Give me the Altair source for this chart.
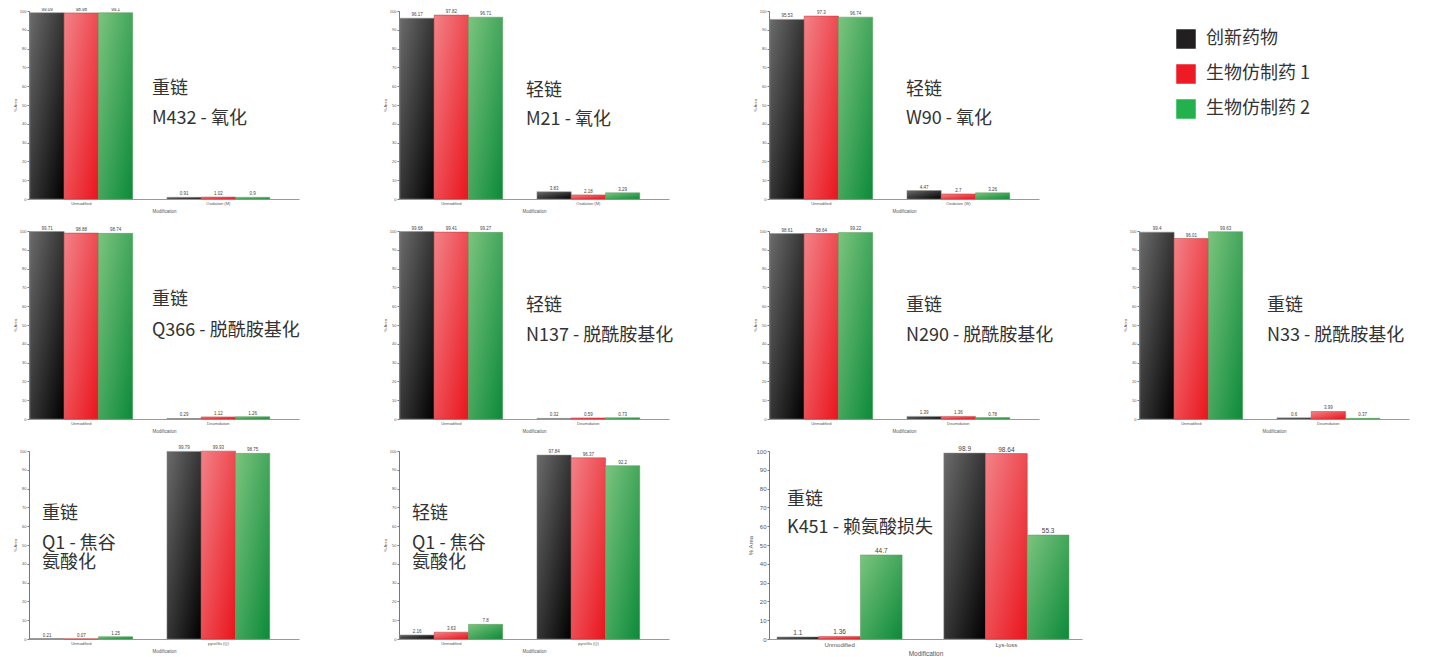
import altair as alt
import pandas as pd

# ---------------- data ----------------
series_names = ["创新药物", "生物仿制药 1", "生物仿制药 2"]
series_colors = ["#231f20", "#ed1c24", "#22b14c"]

chains = ["重链", "轻链", "轻链", "重链", "轻链", "重链", "重链", "重链", "轻链", "重链"]
sites = ["M432 - 氧化", "M21 - 氧化", "W90 - 氧化", "Q366 - 脱酰胺基化", "N137 - 脱酰胺基化",
         "N290 - 脱酰胺基化", "N33 - 脱酰胺基化", "Q1 - 焦谷", "Q1 - 焦谷", "K451 - 赖氨酸损失"]
sites_extra = ["", "", "", "", "", "", "", "氨酸化", "氨酸化", ""]

unmod_label = "Unmodified"
mod_labels = ["Oxidation (M)", "Oxidation (M)", "Oxidation (W)", "Deamidation", "Deamidation",
              "Deamidation", "Deamidation", "pyroGlu (Q)", "pyroGlu (Q)", "Lys-loss"]

innovator_unmod = [99.09, 96.17, 95.53, 99.71, 99.68, 98.61, 99.4, 0.21, 2.16, 1.1]
innovator_mod = [0.91, 3.83, 4.47, 0.29, 0.32, 1.39, 0.6, 99.79, 97.84, 98.9]
biosim1_unmod = [98.98, 97.82, 97.3, 98.88, 99.41, 98.64, 96.01, 0.07, 3.63, 1.36]
biosim1_mod = [1.02, 2.18, 2.7, 1.12, 0.59, 1.36, 3.99, 99.93, 96.37, 98.64]
biosim2_unmod = [99.1, 96.71, 96.74, 98.74, 99.27, 99.22, 99.63, 1.25, 7.8, 44.7]
biosim2_mod = [0.9, 3.29, 3.26, 1.26, 0.73, 0.78, 0.37, 98.75, 92.2, 55.3]

# ---------------- styling / layout (not data) ----------------
CJK = "Noto Sans CJK SC"
SMALL_FONT = "Liberation Sans"
PW = 270
PH = 188

gradients = [
    alt.Gradient(gradient="linear", x1=0, y1=0, x2=1, y2=1,
                 stops=[alt.GradientStop(offset=0, color="#6b6b6b"), alt.GradientStop(offset=1, color="#000000")]),
    alt.Gradient(gradient="linear", x1=0, y1=0, x2=1, y2=1,
                 stops=[alt.GradientStop(offset=0, color="#f28288"), alt.GradientStop(offset=1, color="#ea141c")]),
    alt.Gradient(gradient="linear", x1=0, y1=0, x2=1, y2=1,
                 stops=[alt.GradientStop(offset=0, color="#7cc47e"), alt.GradientStop(offset=1, color="#0c8a3a")]),
]
strokes = ["#8a8a8a", "#b83a3a", "#5a9a5a"]

# annotation placement relative to each panel's plot area
ann_x = [123, 127, 137, 123, 127, 137, 128, 13, 13, 18]
ann_y = [[78, 108], [80, 109], [79, 108], [69, 100], [75, 105], [75, 105], [75, 105],
         [63, 93, 112], [63, 93, 112], [49, 77]]


def panel(i, xrange=PW, fs=4, pi=0.25, po=0.11, align=0.03):
    cats = [unmod_label, mod_labels[i]]
    rows = []
    for s, u, m in zip(series_names,
                       [innovator_unmod, biosim1_unmod, biosim2_unmod],
                       [innovator_mod, biosim1_mod, biosim2_mod]):
        rows.append({"cat": cats[0], "series": s, "value": u[i]})
        rows.append({"cat": cats[1], "series": s, "value": m[i]})
    df = pd.DataFrame(rows)
    df["label"] = df["value"].map(lambda v: f"{v:g}")

    step = xrange / (len(cats) - pi + 2 * po)
    bandwidth = step * (1 - pi)

    base = alt.Chart(df).encode(
        x=alt.X("cat:N", sort=cats,
                scale=alt.Scale(domain=cats, paddingInner=pi, paddingOuter=po, align=align,
                                range=[0, xrange]),
                axis=alt.Axis(title="Modification", labelAngle=0, ticks=False,
                              labelFontSize=fs, titleFontSize=fs + 0.5, labelColor="#555",
                              titleColor="#555", titleFontWeight="normal", domainColor="#999",
                              labelPadding=2, titlePadding=3, labelFont=SMALL_FONT,
                              titleFont=SMALL_FONT)),
        xOffset=alt.XOffset("series:N", sort=series_names,
                            scale=alt.Scale(domain=series_names, paddingInner=0, paddingOuter=0,
                                            range=[0, bandwidth])),
        y=alt.Y("value:Q", scale=alt.Scale(domain=[0, 100], nice=False),
                axis=alt.Axis(title="% Area", values=list(range(0, 101, 10)), grid=False,
                              tickSize=2, tickColor="#777", domainColor="#777",
                              labelFontSize=fs, titleFontSize=fs, labelColor="#555",
                              titleColor="#555", titleFontWeight="normal", labelPadding=1,
                              titlePadding=2, labelFont=SMALL_FONT, titleFont=SMALL_FONT)),
    )
    layers = []
    for s, g, st in zip(series_names, gradients, strokes):
        layers.append(base.transform_filter(alt.datum.series == s)
                      .mark_bar(fill=g, stroke=st, strokeWidth=0.5))
    layers.append(base.mark_text(dy=-1, baseline="bottom", fontSize=fs + 0.5, color="#444",
                                 font=SMALL_FONT).encode(text="label:N"))
    lines = [chains[i], sites[i]] + ([sites_extra[i]] if sites_extra[i] else [])
    for j, line in enumerate(lines):
        layers.append(
            alt.Chart(pd.DataFrame({"t": [line]})).mark_text(
                align="left", baseline="middle", fontSize=18, font=CJK, color="#333"
            ).encode(text="t:N", x=alt.value(ann_x[i]), y=alt.value(ann_y[i][j]))
        )
    return alt.layer(*layers).properties(width=PW, height=PH)


# legend panel
leg_df = pd.DataFrame({"series": series_names})
leg_y = alt.Y("series:N", sort=series_names, axis=None,
              scale=alt.Scale(domain=series_names, range=[28, 98], padding=0))
leg_sq = alt.Chart(leg_df).mark_square(size=380, opacity=1).encode(
    x=alt.value(47), y=leg_y,
    color=alt.Color("series:N", scale=alt.Scale(domain=series_names, range=series_colors), legend=None),
)
leg_tx = alt.Chart(leg_df).mark_text(align="left", baseline="middle", fontSize=18, font=CJK,
                                     color="#333").encode(x=alt.value(67), y=leg_y, text="series:N")
legend = alt.layer(leg_sq, leg_tx).properties(width=PW, height=PH)

cells = [panel(0), panel(1), panel(2), legend,
         panel(3), panel(4), panel(5), panel(6),
         panel(7), panel(8), panel(9, xrange=313, fs=6, pi=0.25, po=0.063, align=0.38)]

chart = alt.concat(*cells, columns=4, spacing={"row": 32, "column": 100},
                   bounds="flush", align="all").resolve_scale(
    xOffset="independent", x="independent", y="independent"
).properties(
    padding={"left": 5, "top": -2, "right": 5, "bottom": 0},
    background="white",
).configure_view(stroke=None)

chart.save("out.html", embed_options={"renderer": "svg", "actions": False})
